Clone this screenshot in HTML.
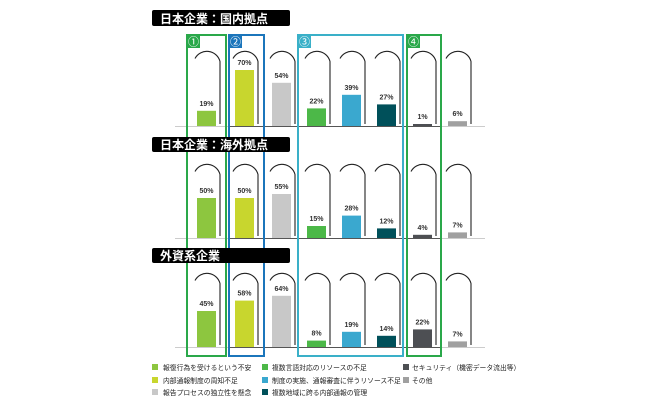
<!DOCTYPE html>
<html><head><meta charset="utf-8"><style>
html,body{margin:0;padding:0;background:#fff;}
svg{display:block;}
text{font-family:"Liberation Sans","Noto Sans CJK JP",sans-serif;}
</style></head><body>
<svg width="650" height="404" viewBox="0 0 650 404" xmlns="http://www.w3.org/2000/svg">
<defs>
<linearGradient id="lg" x1="0" y1="0" x2="0" y2="1">
<stop offset="0" stop-color="#fff"/><stop offset="0.3" stop-color="#444"/><stop offset="0.7" stop-color="#bbb"/><stop offset="1" stop-color="#f4f4f4"/>
</linearGradient>
</defs>
<g id="chart"></g>
<!-- highlight boxes -->
<rect x="187" y="35" width="39" height="321" fill="none" stroke="#2aa84a" stroke-width="2"/>
<rect x="229" y="35" width="35" height="321" fill="none" stroke="#1b75bb" stroke-width="2"/>
<rect x="298" y="35" width="105" height="321" fill="none" stroke="#3ab0c8" stroke-width="2"/>
<rect x="407" y="35" width="34" height="321" fill="none" stroke="#2aa84a" stroke-width="2"/>
<rect x="187" y="35" width="13" height="13" fill="#2aa84a"/><text x="193.5" y="45.5" font-size="11" fill="#fff" text-anchor="middle">①</text>
<rect x="229" y="35" width="13" height="13" fill="#1b75bb"/><text x="235.5" y="45.5" font-size="11" fill="#fff" text-anchor="middle">②</text>
<rect x="298" y="35" width="13" height="13" fill="#3ab0c8"/><text x="304.5" y="45.5" font-size="11" fill="#fff" text-anchor="middle">③</text>
<rect x="407" y="35" width="13" height="13" fill="#2aa84a"/><text x="413.5" y="45.5" font-size="11" fill="#fff" text-anchor="middle">④</text>
<!-- titles -->
<rect x="152" y="10" width="138" height="16" rx="2" fill="#000"/>
<text x="160" y="23" font-size="12" font-weight="bold" fill="#fff">日本企業：国内拠点</text>
<rect x="152" y="137" width="138" height="15" rx="2" fill="#000"/>
<text x="160" y="149" font-size="12" font-weight="bold" fill="#fff">日本企業：海外拠点</text>
<rect x="152" y="248" width="138" height="15" rx="2" fill="#000"/>
<text x="160" y="260" font-size="12" font-weight="bold" fill="#fff">外資系企業</text>
<!-- legend -->
<g font-size="6.8" fill="#222">
<rect x="152" y="364" width="6" height="6" fill="#8dc63f"/><text x="163" y="370">報復行為を受けるという不安</text>
<rect x="152" y="377" width="6" height="6" fill="#c8d62e"/><text x="163" y="383">内部通報制度の周知不足</text>
<rect x="152" y="389" width="6" height="6" fill="#c8c8c8"/><text x="163" y="395">報告プロセスの独立性を懸念</text>
<rect x="262" y="364" width="6" height="6" fill="#4cb848"/><text x="272" y="370">複数言語対応のリソースの不足</text>
<rect x="262" y="377" width="6" height="6" fill="#3aa8cf"/><text x="272" y="383">制度の実施、通報審査に伴うリソース不足</text>
<rect x="262" y="389" width="6" height="6" fill="#00505a"/><text x="272" y="395">複数地域に跨る内部通報の管理</text>
<rect x="403" y="364" width="6" height="6" fill="#4d4f53"/><text x="412" y="370">セキュリティ（機密データ流出等）</text>
<rect x="403" y="377" width="6" height="6" fill="#a0a0a0"/><text x="412" y="383">その他</text>
</g>
</svg>
<script>
(function(){
var ns="http://www.w3.org/2000/svg",g=document.getElementById("chart");
var lefts=[197,235,272,307,342,377,413,448];
var cols=["#8dc63f","#c8d62e","#c8c8c8","#4cb848","#3aa8cf","#00505a","#4d4f53","#a0a0a0"];
var panels=[{top:48,base:126,v:[19,70,54,22,39,27,1,6]},{top:161,base:238,v:[50,50,55,15,28,12,4,7]},{top:270,base:347,v:[45,58,64,8,19,14,22,7]}];
function el(n,a){var e=document.createElementNS(ns,n);for(var k in a)e.setAttribute(k,a[k]);g.appendChild(e);return e;}
panels.forEach(function(p){
 el("line",{x1:175,y1:p.base+0.5,x2:485,y2:p.base+0.5,stroke:"#ccc","stroke-width":1});
 el("line",{x1:230,y1:p.base+0.5,x2:440,y2:p.base+0.5,stroke:"#555","stroke-width":1});
 lefts.forEach(function(l,i){
  var L=l-4,R=l+23,r=(R-L)/2;
  el("line",{x1:L,y1:p.top+18,x2:L,y2:p.base,stroke:"url(#lg)","stroke-width":1});
  el("path",{d:"M"+(L+2)+","+(p.top+r-3)+" A"+r+","+r+" 0 0 1 "+R+","+(p.top+r)+" L"+R+","+(p.base-2),fill:"none",stroke:"#222","stroke-width":1.1});
  var h=Math.max(2,p.v[i]*0.8);
  el("rect",{x:l,y:p.base-h,width:19,height:h,fill:cols[i]});
  var t=el("text",{x:l+9.5,y:p.base-h-5,"font-size":7,"font-weight":"bold","text-anchor":"middle",fill:"#333"});
  t.textContent=p.v[i]+"%";
 });
});
})();
</script>
</body></html>
